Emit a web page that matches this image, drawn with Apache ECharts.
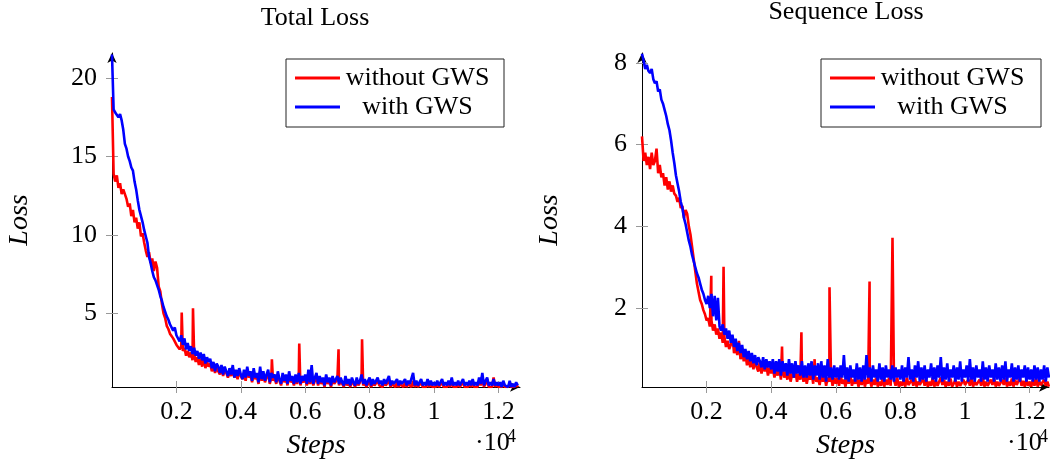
<!DOCTYPE html>
<html>
<head>
<meta charset="utf-8">
<script src="https://cdn.jsdelivr.net/npm/echarts@6/dist/echarts.min.js"></script>
<style>html,body{margin:0;padding:0;background:#fff}#c{width:1050px;height:462px}</style>
</head>
<body>
<div id="c"></div>
<script>
const steps = [0,
  50, 100, 150, 200, 250, 300, 350, 400, 450, 500, 550, 600, 650, 700, 750, 800, 850, 900, 950, 1000,
  1050, 1100, 1150, 1200, 1250, 1300, 1350, 1400, 1450, 1500, 1550, 1600, 1650, 1700, 1750, 1800, 1850, 1900, 1950, 2000,
  2050, 2100, 2150, 2200, 2250, 2300, 2350, 2400, 2450, 2500, 2550, 2600, 2650, 2700, 2750, 2800, 2850, 2900, 2950, 3000,
  3050, 3100, 3150, 3200, 3250, 3300, 3350, 3400, 3450, 3500, 3550, 3600, 3650, 3700, 3750, 3800, 3850, 3900, 3950, 4000,
  4050, 4100, 4150, 4200, 4250, 4300, 4350, 4400, 4450, 4500, 4550, 4600, 4650, 4700, 4750, 4800, 4850, 4900, 4950, 5000,
  5050, 5100, 5150, 5200, 5250, 5300, 5350, 5400, 5450, 5500, 5550, 5600, 5650, 5700, 5750, 5800, 5850, 5900, 5950, 6000,
  6050, 6100, 6150, 6200, 6250, 6300, 6350, 6400, 6450, 6500, 6550, 6600, 6650, 6700, 6750, 6800, 6850, 6900, 6950, 7000,
  7050, 7100, 7150, 7200, 7250, 7300, 7350, 7400, 7450, 7500, 7550, 7600, 7650, 7700, 7750, 7800, 7850, 7900, 7950, 8000,
  8050, 8100, 8150, 8200, 8250, 8300, 8350, 8400, 8450, 8500, 8550, 8600, 8650, 8700, 8750, 8800, 8850, 8900, 8950, 9000,
  9050, 9100, 9150, 9200, 9250, 9300, 9350, 9400, 9450, 9500, 9550, 9600, 9650, 9700, 9750, 9800, 9850, 9900, 9950, 10000,
  10050, 10100, 10150, 10200, 10250, 10300, 10350, 10400, 10450, 10500, 10550, 10600, 10650, 10700, 10750, 10800, 10850, 10900, 10950, 11000,
  11050, 11100, 11150, 11200, 11250, 11300, 11350, 11400, 11450, 11500, 11550, 11600, 11650, 11700, 11750, 11800, 11850, 11900, 11950, 12000,
  12050, 12100, 12150, 12200, 12250, 12300, 12350, 12400, 12450, 12500, 12550, 12600];

const totalWithout = [18.8,
  13.9, 13.4, 13.8, 13.0, 13.3, 12.6, 12.9, 12.8, 12.3, 11.8, 12.0, 11.2, 11.6, 10.8, 11.1, 10.4, 10.8, 9.9, 10.1, 9.5,
  9.0, 8.6, 8.9, 8.2, 8.5, 7.7, 8.3, 7.9, 6.7, 6.4, 5.6, 5.0, 4.7, 4.2, 4.0, 3.7, 3.8, 3.4, 3.3, 3.0,
  3.1, 2.7, 2.9, 2.6, 2.8, 2.3, 2.6, 2.2, 2.5, 2.0, 2.4, 1.9, 2.2, 1.7, 2.1, 1.6, 2.3, 1.5, 1.9, 1.6,
  1.8, 1.3, 1.7, 1.2, 1.5, 1.4, 1.1, 1.6, 1.0, 1.4, 1.2, 0.9, 1.3, 1.0, 1.5, 0.9, 1.2, 0.8, 1.3, 1.0,
  0.8, 1.2, 0.7, 1.4, 0.9, 1.1, 0.6, 1.2, 0.8, 1.0, 0.5, 1.3, 0.7, 1.1, 0.6, 0.9, 1.2, 0.5, 1.0, 0.7,
  0.9, 0.5, 1.1, 0.7, 0.4, 1.0, 0.6, 0.9, 0.4, 1.1, 0.6, 0.8, 0.4, 0.9, 0.5, 1.0, 0.4, 0.8, 0.6, 0.9,
  0.4, 0.8, 0.5, 1.0, 0.4, 0.7, 0.9, 0.4, 0.8, 0.5, 0.7, 0.3, 0.9, 0.5, 0.7, 0.3, 0.8, 0.5, 0.4, 0.8,
  0.4, 0.7, 0.5, 0.3, 0.8, 0.4, 0.6, 0.3, 0.7, 0.5, 0.3, 0.7, 0.4, 0.6, 0.9, 0.4, 0.6, 0.3, 0.5, 0.7,
  0.3, 0.6, 0.4, 0.3, 0.7, 0.4, 0.5, 0.3, 0.6, 0.4, 0.3, 0.7, 0.3, 0.5, 0.4, 0.3, 0.6, 0.3, 0.5, 0.4,
  0.3, 0.6, 0.3, 0.5, 0.4, 0.3, 0.7, 0.3, 0.5, 0.3, 0.4, 0.6, 0.3, 0.4, 0.3, 0.6, 0.3, 0.5, 0.3, 0.4,
  0.3, 0.5, 0.3, 0.4, 0.6, 0.3, 0.4, 0.3, 0.5, 0.3, 0.7, 0.3, 0.4, 0.3, 0.5, 0.3, 0.4, 0.6, 0.3, 0.4,
  0.3, 0.5, 0.3, 0.6, 0.3, 0.4, 0.3, 0.7, 0.4, 1.0, 0.3, 0.5, 0.8, 0.3, 0.4, 0.3, 0.9, 0.3, 0.5, 0.3,
  0.4, 0.3, 0.6, 0.3, 0.4, 0.3, 0.5, 0.3, 0.4, 0.3, 0.5, 0.3];

const totalWith = [21.5,
  18.0, 17.8, 17.9, 17.5, 17.7, 17.3, 16.7, 15.8, 15.5, 15.0, 14.7, 14.3, 14.1, 13.4, 12.9, 12.2, 11.6, 11.2, 10.8, 10.3,
  9.9, 9.5, 8.6, 8.2, 7.7, 7.3, 7.1, 6.8, 6.5, 6.1, 5.8, 5.4, 5.1, 4.8, 4.6, 4.3, 4.4, 3.9, 4.1, 3.6,
  3.5, 3.2, 3.6, 3.0, 3.4, 2.7, 3.1, 2.6, 2.9, 2.4, 2.8, 2.3, 2.6, 2.1, 2.5, 2.0, 2.4, 1.8, 2.2, 1.9,
  2.1, 1.5, 1.9, 1.3, 1.8, 1.6, 1.2, 1.7, 1.1, 1.6, 1.3, 1.0, 1.5, 1.1, 1.7, 0.9, 1.4, 1.0, 1.5, 1.1,
  0.8, 1.4, 0.9, 1.6, 1.0, 1.3, 0.7, 1.5, 0.9, 1.2, 0.6, 1.6, 0.8, 1.3, 0.7, 1.1, 1.4, 0.6, 1.2, 0.9,
  1.1, 0.6, 1.3, 0.8, 0.5, 1.2, 0.7, 1.1, 0.5, 1.3, 0.7, 1.0, 0.5, 1.1, 0.6, 1.2, 0.5, 1.0, 0.7, 1.1,
  0.5, 1.4, 0.6, 1.7, 0.5, 0.9, 1.2, 0.5, 1.0, 0.6, 0.9, 0.4, 1.1, 0.6, 0.9, 0.4, 1.0, 0.6, 0.5, 1.0,
  0.5, 0.9, 0.6, 0.4, 1.0, 0.5, 0.8, 0.4, 0.9, 0.6, 0.4, 0.9, 0.5, 0.7, 1.1, 0.5, 0.8, 0.4, 0.7, 0.9,
  0.4, 0.8, 0.5, 0.4, 0.9, 0.5, 0.7, 0.4, 0.8, 0.5, 0.4, 1.0, 0.4, 0.7, 0.5, 0.4, 0.8, 0.4, 0.7, 0.5,
  0.4, 0.8, 0.4, 0.7, 0.5, 0.4, 1.2, 0.4, 0.7, 0.4, 0.5, 0.8, 0.4, 0.6, 0.4, 0.8, 0.4, 0.7, 0.4, 0.6,
  0.4, 0.7, 0.4, 0.6, 0.8, 0.4, 0.6, 0.4, 0.7, 0.4, 0.9, 0.4, 0.6, 0.4, 0.7, 0.4, 0.5, 0.8, 0.4, 0.6,
  0.4, 0.7, 0.4, 0.8, 0.4, 0.6, 0.4, 0.9, 0.5, 1.2, 0.4, 0.7, 0.9, 0.4, 0.6, 0.4, 0.8, 0.4, 0.6, 0.4,
  0.6, 0.3, 0.7, 0.4, 0.5, 0.3, 0.7, 0.3, 0.5, 0.3, 0.6, 0.4];

const totalSpikeSteps = [2165, 2515, 4965, 5815, 7035, 7765];
const totalSpikeValues = [5.05, 5.32, 2.07, 3.07, 2.71, 3.35];

const seqWithout = [6.2,
  5.6, 5.8, 5.5, 5.7, 5.4, 5.8, 5.5, 5.6, 5.9, 5.3, 5.5, 5.2, 5.3, 5.0, 5.2, 4.9, 5.1, 4.85, 5.0, 4.8,
  4.75, 4.6, 4.7, 4.45, 4.5, 4.2, 4.4, 4.3, 4.0, 3.8, 3.5, 3.2, 2.9, 2.6, 2.4, 2.2, 2.1, 1.95, 1.85, 1.7,
  1.75, 1.55, 1.7, 1.45, 1.6, 1.35, 1.5, 1.25, 1.4, 1.15, 1.3, 1.05, 1.2, 1.0, 1.1, 1.3, 0.9, 1.05, 0.85, 1.2,
  0.75, 1.0, 0.7, 0.9, 0.6, 0.85, 0.55, 0.8, 0.5, 0.75, 0.55, 0.45, 0.7, 0.4, 0.65, 0.45, 0.6, 0.35, 0.55, 0.4,
  0.55, 0.3, 0.5, 0.35, 0.55, 0.25, 0.5, 0.3, 0.45, 0.25, 0.5, 0.2, 0.4, 0.3, 0.45, 0.2, 0.4, 0.25, 0.45, 0.2,
  0.4, 0.15, 0.35, 0.25, 0.45, 0.15, 0.35, 0.2, 0.3, 0.12, 0.4, 0.2, 0.35, 0.1, 0.3, 0.2, 0.35, 0.1, 0.3, 0.15,
  0.3, 0.1, 0.35, 0.15, 0.25, 0.08, 0.3, 0.15, 0.35, 0.1, 0.25, 0.15, 0.3, 0.08, 0.25, 0.12, 0.3, 0.08, 0.25, 0.15,
  0.3, 0.08, 0.25, 0.12, 0.3, 0.08, 0.2, 0.1, 0.3, 0.08, 0.25, 0.12, 0.3, 0.1, 0.08, 0.25, 0.1, 0.3, 0.08, 0.2,
  0.1, 0.25, 0.08, 0.3, 0.12, 0.08, 0.25, 0.1, 0.3, 0.08, 0.2, 0.12, 0.08, 0.28, 0.1, 0.25, 0.08, 0.2, 0.1, 0.3,
  0.08, 0.22, 0.1, 0.08, 0.3, 0.12, 0.25, 0.08, 0.2, 0.1, 0.28, 0.08, 0.15, 0.25, 0.08, 0.2, 0.1, 0.08, 0.25, 0.12,
  0.08, 0.25, 0.1, 0.3, 0.08, 0.2, 0.12, 0.08, 0.25, 0.1, 0.3, 0.08, 0.2, 0.1, 0.08, 0.25, 0.12, 0.3, 0.08, 0.2,
  0.1, 0.08, 0.25, 0.12, 0.3, 0.08, 0.2, 0.1, 0.28, 0.08, 0.25, 0.12, 0.08, 0.3, 0.1, 0.22, 0.08, 0.25, 0.1, 0.2,
  0.08, 0.25, 0.1, 0.3, 0.08, 0.2, 0.12, 0.08, 0.25, 0.1, 0.2, 0.08];

const seqWith = [8.22,
  8.05, 7.85, 7.95, 7.8, 7.75, 7.85, 7.6, 7.5, 7.55, 7.3, 7.35, 7.1, 7.0, 6.85, 6.7, 6.5, 6.35, 6.1, 5.8, 5.55,
  5.25, 5.05, 4.85, 4.6, 4.45, 4.2, 4.05, 3.85, 3.65, 3.5, 3.3, 3.15, 3.0, 2.85, 2.75, 2.6, 2.45, 2.35, 2.2, 2.1,
  2.3, 2.0, 2.35, 1.8, 2.3, 1.7, 2.25, 1.55, 1.45, 1.6, 1.35, 1.5, 1.25, 1.45, 1.15, 1.35, 1.05, 1.25, 0.95, 1.15,
  0.9, 1.1, 0.8, 1.0, 0.75, 0.95, 0.7, 0.9, 0.65, 0.85, 0.6, 0.8, 0.7, 0.55, 0.8, 0.5, 0.75, 0.55, 0.7, 0.5,
  0.75, 0.4, 0.7, 0.45, 0.75, 0.35, 0.7, 0.45, 0.65, 0.35, 0.75, 0.4, 0.65, 0.3, 0.7, 0.4, 0.6, 0.35, 0.7, 0.3,
  0.6, 0.3, 0.65, 0.35, 0.7, 0.25, 0.6, 0.35, 0.65, 0.25, 0.7, 0.3, 0.6, 0.2, 0.75, 0.3, 0.55, 0.25, 0.6, 0.3,
  0.55, 0.25, 0.6, 0.3, 0.85, 0.25, 0.55, 0.2, 0.6, 0.3, 0.5, 0.2, 0.65, 0.25, 0.55, 0.2, 0.6, 0.25, 0.85, 0.3,
  0.55, 0.2, 0.6, 0.3, 0.5, 0.2, 0.65, 0.25, 0.55, 0.2, 0.6, 0.3, 0.5, 0.25, 0.6, 0.2, 0.55, 0.3, 0.5, 0.25,
  0.6, 0.2, 0.55, 0.3, 0.8, 0.25, 0.5, 0.2, 0.6, 0.3, 0.7, 0.2, 0.55, 0.25, 0.6, 0.2, 0.5, 0.3, 0.65, 0.25,
  0.55, 0.2, 0.6, 0.3, 0.8, 0.2, 0.55, 0.25, 0.65, 0.2, 0.5, 0.3, 0.6, 0.2, 0.55, 0.25, 0.7, 0.2, 0.5, 0.3,
  0.6, 0.2, 0.75, 0.25, 0.55, 0.2, 0.6, 0.3, 0.5, 0.2, 0.7, 0.25, 0.55, 0.2, 0.6, 0.3, 0.5, 0.2, 0.65, 0.25,
  0.55, 0.2, 0.6, 0.25, 0.7, 0.2, 0.5, 0.3, 0.65, 0.2, 0.55, 0.25, 0.6, 0.2, 0.5, 0.3, 0.6, 0.2, 0.55, 0.25,
  0.5, 0.2, 0.6, 0.25, 0.55, 0.2, 0.5, 0.25, 0.6, 0.2, 0.55, 0.3];

const seqSpikeSteps = [2145, 2525, 4335, 4935, 5345, 5805, 7045, 7755];
const seqSpikeValues = [2.79, 3.01, 1.06, 1.41, 0.75, 2.51, 2.65, 3.72];

const xTicks = [2000, 4000, 6000, 8000, 10000, 12000];
const totalYTicks = [5, 10, 15, 20];
const seqYTicks = [2, 4, 6, 8];
const seriesNames = ['without GWS', 'with GWS'];
const titles = ['Total Loss', 'Sequence Loss'];

function pairs(xs, ys, sx, sy) {
  const d = xs.map((x, i) => [x, ys[i]]);
  if (sx) sx.forEach((x, i) => d.push([x, sy[i]]));
  d.sort((a, b) => a[0] - b[0]);
  return d;
}

const SERIF = '"Liberation Serif", "DejaVu Serif", serif';
const FS = 26;

function xAxes(grid, max) {
  return [{
    gridIndex: grid, type: 'value', min: 0, max: max, position: 'bottom',
    name: 'Steps', nameLocation: 'middle', nameGap: 45,
    nameTextStyle: {fontFamily: SERIF, fontStyle: 'italic', fontSize: 28, color: '#000'},
    axisLine: {show: true, onZero: false, symbol: ['none', 'arrow'], symbolSize: [7, 10],
      lineStyle: {color: '#000', width: 1}},
    axisTick: {show: true, customValues: xTicks, length: 6, lineStyle: {color: '#999', width: 1}},
    axisLabel: {customValues: xTicks, margin: 12, fontFamily: SERIF, fontSize: FS, color: '#000',
      formatter: v => String(v / 10000)},
    splitLine: {show: false}
  }, {
    gridIndex: grid, type: 'value', min: 0, max: max, position: 'bottom', offset: 0,
    axisLine: {show: false},
    axisTick: {show: true, inside: true, customValues: xTicks, length: 6, lineStyle: {color: '#999', width: 1}},
    axisLabel: {show: false}, splitLine: {show: false}
  }];
}

function yAxes(grid, min, max, ticks) {
  return [{
    gridIndex: grid, type: 'value', min: min, max: max, position: 'left',
    name: 'Loss', nameLocation: 'middle', nameGap: 78, nameRotate: 90,
    nameTextStyle: {fontFamily: SERIF, fontStyle: 'italic', fontSize: 28, color: '#000'},
    axisLine: {show: true, onZero: false, symbol: ['none', 'arrow'], symbolSize: [7, 10],
      lineStyle: {color: '#000', width: 1}},
    axisTick: {show: true, customValues: ticks, length: 6, lineStyle: {color: '#999', width: 1}},
    axisLabel: {customValues: ticks, margin: 15, fontFamily: SERIF, fontSize: FS, color: '#000'},
    splitLine: {show: false}
  }, {
    gridIndex: grid, type: 'value', min: min, max: max, position: 'left', offset: 0,
    axisLine: {show: false},
    axisTick: {show: true, inside: true, customValues: ticks, length: 6, lineStyle: {color: '#999', width: 1}},
    axisLabel: {show: false}, splitLine: {show: false}
  }];
}

function legend(left, padRight) {
  return {
    left: left, top: 59, orient: 'vertical', icon: 'rect', itemWidth: 45, itemHeight: 3,
    itemGap: 3, padding: [6, padRight, 7, 9], borderColor: '#222', borderWidth: 1,
    backgroundColor: '#fff', selectedMode: false,
    data: seriesNames,
    formatter: n => '{t|' + n + '}',
    textStyle: {fontFamily: SERIF, fontSize: FS, color: '#000',
      rich: {t: {fontFamily: SERIF, fontSize: FS, color: '#000', width: 145, align: 'center', lineHeight: 30}}}
  };
}

function line(name, color, xi, yi, data) {
  return {name: name, type: 'line', xAxisIndex: xi, yAxisIndex: yi, data: data,
    symbol: 'none', showSymbol: false, animation: false, clip: true,
    lineStyle: {color: color, width: 2.6}, itemStyle: {color: color}};
}

const chart = echarts.init(document.getElementById('c'), null, {renderer: 'canvas'});
chart.setOption({
  animation: false,
  backgroundColor: '#fff',
  title: [
    {text: titles[0], left: 315, top: 5, textAlign: 'center', padding: 0,
      textStyle: {fontFamily: SERIF, fontSize: FS, fontWeight: 'normal', color: '#000'}},
    {text: titles[1], left: 846, top: -1, textAlign: 'center', padding: 0,
      textStyle: {fontFamily: SERIF, fontSize: FS, fontWeight: 'normal', color: '#000'}}
  ],
  legend: [legend(286, 14), legend(821, 16)],
  grid: [
    {left: 112, top: 53, width: 408, height: 334, outerBoundsMode: 'none', containLabel: false},
    {left: 642, top: 53, width: 407, height: 334, outerBoundsMode: 'none', containLabel: false}
  ],
  xAxis: [...xAxes(0, 12670), ...xAxes(1, 12600)],
  yAxis: [...yAxes(0, 0.3, 21.6, totalYTicks), ...yAxes(1, 0.07, 8.24, seqYTicks)],
  graphic: [
    {type: 'text', x: 475, y: 443, style: {text: '·10', fontFamily: SERIF, fontSize: FS, fill: '#000', verticalAlign: 'middle'}},
    {type: 'text', x: 507, y: 437, style: {text: '4', fontFamily: SERIF, fontSize: 18, fill: '#000', verticalAlign: 'middle'}},
    {type: 'text', x: 1007, y: 443, style: {text: '·10', fontFamily: SERIF, fontSize: FS, fill: '#000', verticalAlign: 'middle'}},
    {type: 'text', x: 1039, y: 437, style: {text: '4', fontFamily: SERIF, fontSize: 18, fill: '#000', verticalAlign: 'middle'}}
  ],
  series: [
    line(seriesNames[0], '#ff0000', 0, 0, pairs(steps, totalWithout, totalSpikeSteps, totalSpikeValues)),
    line(seriesNames[1], '#0000ff', 0, 0, pairs(steps, totalWith)),
    line(seriesNames[0], '#ff0000', 2, 2, pairs(steps, seqWithout, seqSpikeSteps, seqSpikeValues)),
    line(seriesNames[1], '#0000ff', 2, 2, pairs(steps, seqWith))
  ]
});
</script>
</body>
</html>
